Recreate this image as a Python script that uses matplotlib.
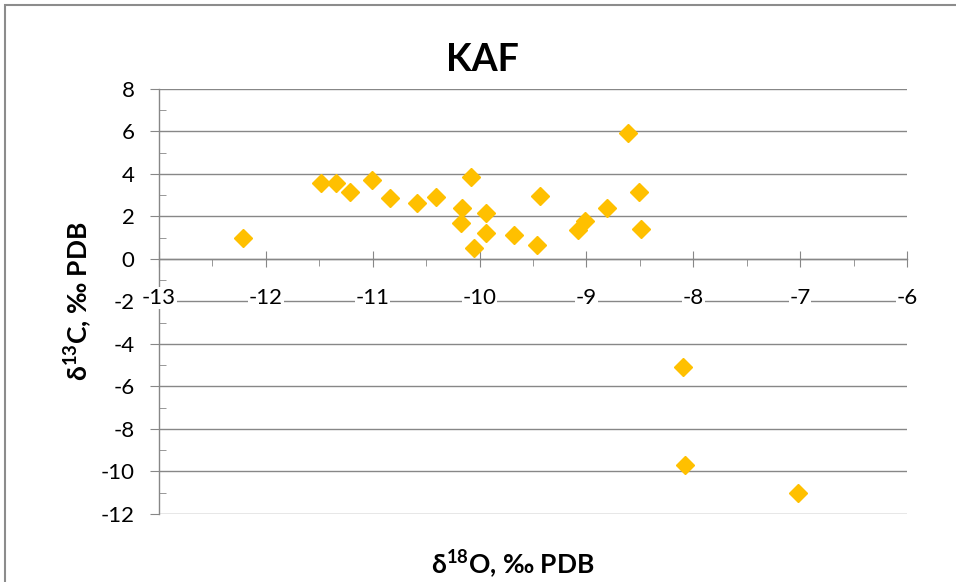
import numpy as np
import matplotlib.pyplot as plt
from matplotlib.patches import Rectangle
from matplotlib.ticker import MultipleLocator

plt.rcParams['font.family'] = ['Lato', 'DejaVu Sans']
plt.rcParams['mathtext.fontset'] = 'custom'
plt.rcParams['mathtext.rm'] = 'Lato'
plt.rcParams['mathtext.bf'] = 'Lato:bold'
plt.rcParams['axes.unicode_minus'] = False

# d18O / d13C values
d18o = [-12.21, -11.48, -11.34, -11.21, -11.01, -10.84, -10.59, -10.41,
        -10.08, -10.16, -10.17, -9.94, -9.94, -10.05, -9.68, -9.46, -9.43,
        -9.08, -9.01, -8.81, -8.61, -8.51, -8.49, -8.10, -8.08, -7.02]
d13c = [0.97, 3.59, 3.56, 3.17, 3.72, 2.88, 2.62, 2.93,
        3.87, 2.38, 1.68, 2.15, 1.24, 0.53, 1.13, 0.64, 2.98,
        1.35, 1.78, 2.38, 5.94, 3.17, 1.40, -5.07, -9.68, -11.01]

title = 'KAF'
xlabel = r'δ$^{\mathbf{18}}$O, ‰ PDB'
ylabel = r'δ$^{\mathbf{13}}$C, ‰ PDB'

W, H = 956, 582
fig = plt.figure(figsize=(W / 100, H / 100), dpi=100)
ax = fig.add_axes([159 / W, 1 - 514 / H, (907 - 159) / W, (514 - 89) / H])

grey = '#878787'
ax.plot(d18o, d13c, linestyle='none', marker='D', markersize=9.5,
        color='#FFC000', zorder=3, clip_on=False)

ax.set_xlim(-13, -6)
ax.set_ylim(-12, 8)
ax.spines['top'].set_visible(False)
ax.spines['right'].set_visible(False)
ax.spines['bottom'].set_position(('data', 0))
for s in ('left', 'bottom'):
    ax.spines[s].set_color(grey)
    ax.spines[s].set_linewidth(1)
    ax.spines[s].set_zorder(1)

ax.yaxis.set_major_locator(MultipleLocator(2))
ax.yaxis.set_minor_locator(MultipleLocator(1))
ax.xaxis.set_major_locator(MultipleLocator(1))
ax.xaxis.set_minor_locator(MultipleLocator(0.5))
ax.yaxis.grid(True, color=grey, linewidth=1)
ax.set_axisbelow(True)
ax.xaxis.set_zorder(2)

ax.tick_params(axis='y', which='major', direction='out', length=6.5,
               color=grey, labelsize=16, pad=11)
ax.tick_params(axis='y', which='minor', direction='in', length=5, color=grey)
ax.tick_params(axis='x', which='major', direction='inout', length=12,
               color=grey, labelsize=16, pad=15)
ax.tick_params(axis='x', which='minor', direction='out', length=5, color=grey)
for lab in ax.get_xticklabels():
    lab.set_bbox(dict(facecolor='white', edgecolor='none', pad=0.5))

fig.text(482 / W, 1 - 60 / H, title, ha='center', va='center',
         fontsize=27, fontweight='bold')
fig.text(513 / W, 1 - 564 / H, xlabel, ha='center', va='center',
         fontsize=19, fontweight='bold')
fig.text(78 / W, 1 - 301 / H, ylabel, ha='center', va='center',
         fontsize=19, fontweight='bold', rotation=90)

# chart area border (partly cut off in the reference)
fig.patches.append(Rectangle((5 / W, -0.1), 1.2, 1 - 5 / H + 0.1,
                             transform=fig.transFigure, fill=False,
                             edgecolor='#8c8c8c', linewidth=1.5))

fig.savefig('out.png', dpi=100)
